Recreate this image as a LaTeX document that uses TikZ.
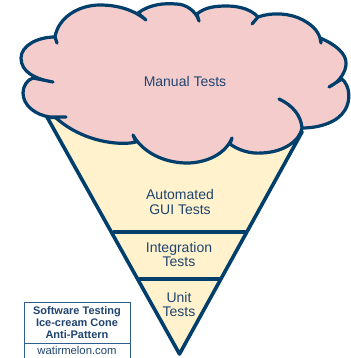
\documentclass[tikz,border=0pt]{standalone}
\usepackage{fontspec}
\setmainfont{Liberation Sans}
\usetikzlibrary{positioning}
\definecolor{conenavy}{HTML}{003F6B}
\definecolor{textnavy}{HTML}{1F4470}
\definecolor{boxblue}{HTML}{2F5F8F}
\definecolor{conefill}{HTML}{FFF2CC}
\definecolor{cloudfill}{HTML}{F4CCCC}
\tikzset{layer label/.style={align=center,text=textnavy,inner sep=0pt,
                             font=\fontsize{14}{14.5}\selectfont},
         legend box/.style={draw=boxblue,line width=1pt,inner sep=0pt,align=center,
                            text=textnavy,minimum width=106pt},
         cone line/.style={draw=conenavy,line width=3.6pt}}

\begin{document}
\begin{tikzpicture}[x=1pt,y=-1pt]
        \useasboundingbox (0,0) rectangle (350,358);
        % the cone with its two dividers
        \draw[cone line,fill=conefill,line join=round] (47,117) coordinate (top-left)
            -- (179.5,354) coordinate (tip) -- (302,132) coordinate (top-right) -- cycle;
        \draw[cone line] (113,232) -- (247,232);
        \draw[cone line] (139,279) -- (221,279);
        % the cloud, each lobe hooks in a little at its notch
        \draw[conenavy,line width=3.2pt,line join=round,line cap=round,fill=cloudfill]
            (55,37) .. controls (58,18) and (78,5) .. (100,5)
            .. controls (118,5) and (134,10) .. (146,20) -- (138,13)
            .. controls (150,4) and (165,3) .. (176,4)
            .. controls (186,4) and (196,11) .. (199,21) -- (197,14)
            .. controls (205,7) and (216,6) .. (227,6)
            .. controls (240,6) and (252,10) .. (258,17) -- (252,24) -- (258,17)
            .. controls (272,12) and (290,13) .. (303,20)
            .. controls (314,26) and (320,33) .. (321,43) -- (320,38)
            .. controls (335,44) and (347,54) .. (346,64)
            .. controls (346,71) and (340,82) .. (329,87) -- (342,79)
            .. controls (350,86) and (351,100) .. (345,110)
            .. controls (338,122) and (320,128) .. (302,128)
            .. controls (301,115) and (292,105) .. (279,99)
            .. controls (292,105) and (301,115) .. (302,128)
            .. controls (300,140) and (285,152) .. (262,153)
            .. controls (250,154) and (238,150) .. (230,144) -- (232,138)
            .. controls (225,155) and (205,163) .. (187,163)
            .. controls (165,163) and (143,153) .. (133,135) -- (136,142)
            .. controls (120,146) and (82,142) .. (55,117) -- (66,117) -- (50,117)
            .. controls (35,115) and (23,105) .. (23,93)
            .. controls (23,86) and (27,80) .. (33,78) -- (53,82)
            .. controls (35,79) and (21,72) .. (21,58)
            .. controls (21,46) and (37,37) .. (55,37) -- (57,43) -- cycle;
        %
        \node[layer label] (manual) at (185,81.5) {Manual Tests};
        \node[layer label] (gui) at (180,202) {Automated\\GUI Tests};
        \node[layer label] (integration) at (179,254.5) {Integration\\Tests};
        \node[layer label] (unit) at (179,304.5) {Unit\\Tests};
        % legend in the corner
        \node[legend box,minimum height=41pt,font=\fontsize{11}{11.7}\selectfont\bfseries]
            (title) at (77,322.5) {Software Testing\\Ice-cream Cone\\Anti-Pattern};
        \node[legend box,minimum height=15pt,font=\fontsize{11.3}{12}\selectfont,
              below=-1pt of title] (site) {watirmelon.com};
\end{tikzpicture}
\end{document}
